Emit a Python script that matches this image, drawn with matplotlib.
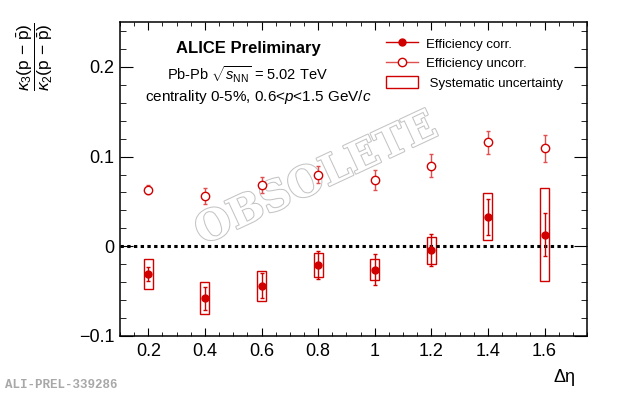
import matplotlib
matplotlib.use("Agg")
import matplotlib.pyplot as plt
import matplotlib.patheffects as pe
from matplotlib.patches import Rectangle
from matplotlib.lines import Line2D
from matplotlib.ticker import MultipleLocator

# Data
deta = [0.2, 0.4, 0.6, 0.8, 1.0, 1.2, 1.4, 1.6]

corr = [-0.031, -0.058, -0.044, -0.021, -0.026, -0.0045, 0.033, 0.013]
corr_stat = [0.008, 0.013, 0.014, 0.016, 0.017, 0.018, 0.020, 0.024]
corr_syst = [0.017, 0.018, 0.017, 0.013, 0.012, 0.015, 0.026, 0.052]

uncorr = [0.063, 0.056, 0.068, 0.080, 0.074, 0.090, 0.116, 0.109]
uncorr_stat = [0.005, 0.009, 0.009, 0.010, 0.011, 0.013, 0.013, 0.015]

xticks = [0.2, 0.4, 0.6, 0.8, 1.0, 1.2, 1.4, 1.6]
xticklabels = ["0.2", "0.4", "0.6", "0.8", "1", "1.2", "1.4", "1.6"]
yticks = [-0.1, 0, 0.1, 0.2]
yticklabels = ["\u22120.1", "0", "0.1", "0.2"]

plt.rcParams["font.family"] = ["Liberation Sans", "DejaVu Sans"]
plt.rcParams["mathtext.fontset"] = "custom"
plt.rcParams["mathtext.rm"] = "Liberation Sans"
plt.rcParams["mathtext.it"] = "Liberation Sans:italic"
plt.rcParams["mathtext.bf"] = "Liberation Sans:bold"

RED = "#d00000"
LRED = "#e05050"

fig = plt.figure(figsize=(6.2, 3.97), dpi=100)
ax = fig.add_axes([120 / 620, 1 - 336 / 397, 467 / 620, 314 / 397])

# watermark (behind the data)
ax.text(0.42, 0.50, "OBSOLETE", transform=ax.transAxes, rotation=25, ha="center", va="center",
        fontsize=30, family="DejaVu Serif", fontweight="bold", color="white",
        path_effects=[pe.Stroke(linewidth=1.5, foreground="#c4c4c4"), pe.Normal()],
        zorder=1)

# systematic boxes
box_w = 0.032
ax.bar(deta, [2 * s for s in corr_syst], bottom=[c - s for c, s in zip(corr, corr_syst)],
       width=box_w, fill=False, edgecolor=RED, linewidth=1.0, zorder=2)

# zero line
ax.plot([0.1, 1.7], [0, 0], color="black", linestyle=(0, (1.1, 1.1)), linewidth=2.2, zorder=2)

ax.errorbar(deta, corr, yerr=corr_stat, fmt="o", color=RED, markersize=5,
            elinewidth=1.0, capsize=1.2, zorder=4)
ax.errorbar(deta, uncorr, yerr=uncorr_stat, fmt="o", color=LRED, mfc="white",
            mec=RED, markersize=6, elinewidth=1.0, capsize=1.2, zorder=4)

ax.set_xlim(0.1, 1.75)
ax.set_ylim(-0.1, 0.25)
ax.set_xticks(xticks)
ax.set_xticklabels(xticklabels)
ax.set_yticks(yticks)
ax.set_yticklabels(yticklabels)
ax.xaxis.set_minor_locator(MultipleLocator(0.05))
ax.yaxis.set_minor_locator(MultipleLocator(0.02))
ax.tick_params(which="both", direction="in", top=True, right=True, labelsize=13)
ax.tick_params(axis="x", which="major", length=6, pad=5)
ax.tick_params(axis="x", which="minor", length=3)
ax.tick_params(axis="y", which="major", length=9.5, pad=4)
ax.tick_params(axis="y", which="minor", length=4.5)
for sp in ax.spines.values():
    sp.set_linewidth(1.1)

# axis titles
fig.text(575 / 620, 1 - 377 / 397, "\u0394\u03b7", ha="right", va="center", fontsize=13)
fig.text(35 / 620, 1 - 57 / 397,
         r"$\dfrac{\kappa_3(\mathrm{p}\ \mathrm{-}\ \bar{\mathrm{p}})}{\kappa_2(\mathrm{p}\ \mathrm{-}\ \bar{\mathrm{p}})}$",
         rotation=90, ha="center", va="center", fontsize=12.5)

# header texts
fig.text(248 / 620, 1 - 48 / 397, "ALICE Preliminary", ha="center", va="center",
         fontsize=12, fontweight="bold")
fig.text(247 / 620, 1 - 75 / 397, r"Pb-Pb $\sqrt{s_{\mathrm{NN}}}$ = 5.02 TeV",
         ha="center", va="center", fontsize=10.5)
fig.text(258 / 620, 1 - 97 / 397, r"centrality 0-5%, 0.6<$p$<1.5 GeV/$c$",
         ha="center", va="center", fontsize=11)

# legend
h_corr = Line2D([], [], color=RED, marker="o", markersize=5, linewidth=1.0)
h_unc = Line2D([], [], color=LRED, marker="o", mfc="white", mec=RED, markersize=6, linewidth=1.0)
box = Rectangle((0, 0), 1, 1, fill=False, edgecolor=RED, linewidth=1.0)
ax.legend([h_corr, h_unc, box],
          ["Efficiency corr.", "Efficiency uncorr.", " Systematic uncertainty"],
          loc="upper left", bbox_to_anchor=(266 / 467, 1 - 15 / 314), frameon=False,
          fontsize=9.5, handlelength=2.4, handleheight=1.1, handletextpad=0.6,
          labelspacing=0.42, borderaxespad=0, borderpad=0)

fig.text(5 / 620, 1 - 385 / 397, "ALI-PREL-339286", ha="left", va="center",
         fontsize=9, family="Liberation Mono", fontweight="bold", color="#a8a8a8")

fig.savefig("out.png", dpi=100)
